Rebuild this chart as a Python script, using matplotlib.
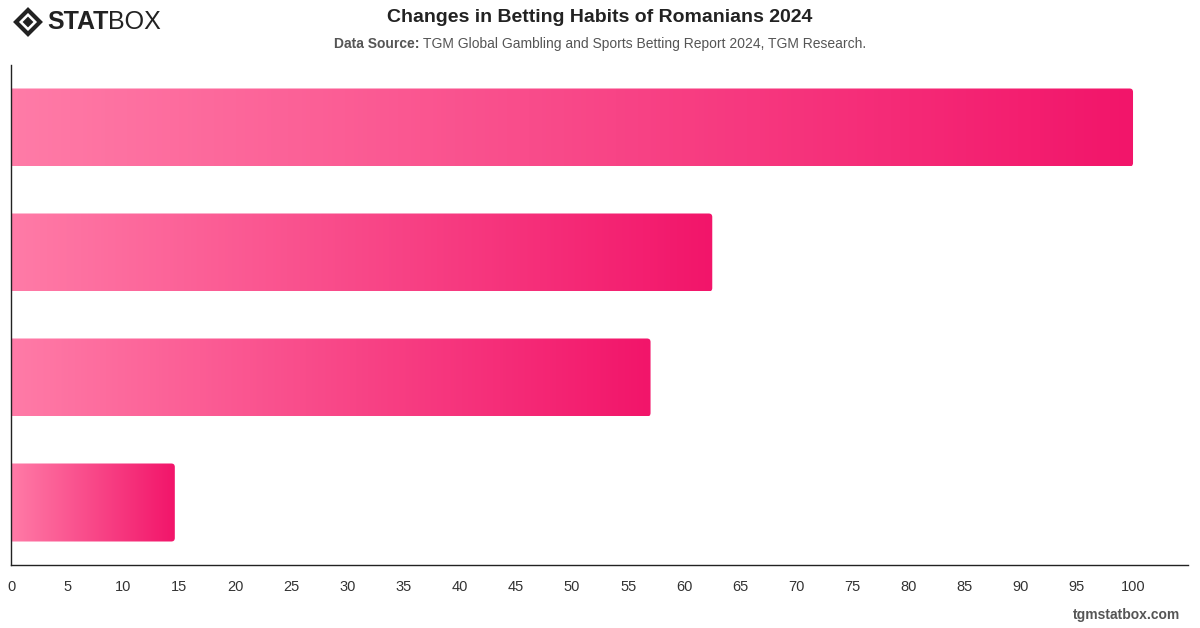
import numpy as np
import matplotlib
matplotlib.use("Agg")
import matplotlib.pyplot as plt
from matplotlib.patches import FancyBboxPatch, Polygon
from matplotlib.colors import LinearSegmentedColormap

plt.rcParams['font.family'] = ['Liberation Sans', 'DejaVu Sans']

# data (category names are not shown in the chart)
categories = ["Group 1", "Group 2", "Group 3", "Group 4"]
values = [100, 62.5, 57.0, 14.6]
x_ticks = list(range(0, 101, 5))

title = "Changes in Betting Habits of Romanians 2024"
source = "TGM Global Gambling and Sports Betting Report 2024, TGM Research."

fig = plt.figure(figsize=(12, 6.28), dpi=100)
ax = fig.add_axes([11 / 1200, 1 - 565 / 628, (1188 - 11) / 1200, 500 / 628])

grad = LinearSegmentedColormap.from_list("pinks", ["#ff7ba7", "#f2156a"])
bar_h = 0.624
x_max = 104.9

# pixels per data unit, for the small rounded corners
px_x = 1177 / x_max
px_y = 500 / len(categories)
rad = 3.5 / px_x
aspect = (3.5 / px_y) / rad

g = np.linspace(0, 1, 256).reshape(1, -1)
for i, v in enumerate(values):
    y0 = i - bar_h / 2
    patch = FancyBboxPatch((-2, y0), v + 2, bar_h,
                           boxstyle=f"round,pad=0,rounding_size={rad}",
                           mutation_aspect=aspect,
                           facecolor="none", edgecolor="none")
    ax.add_patch(patch)
    im = ax.imshow(g, cmap=grad, aspect="auto", extent=[0, v, y0 + bar_h, y0],
                   interpolation="bicubic", zorder=2)
    im.set_clip_path(patch)

ax.set_aspect("auto")
ax.set_xlim(0, x_max)
ax.set_ylim(len(categories) - 0.5, -0.5)

ax.set_xticks(x_ticks)
ax.set_xticklabels([str(t) for t in x_ticks], fontsize=10.5, color="#333333")
ax.tick_params(axis="x", length=0, pad=11)
ax.set_yticks([])
for s in ["top", "right"]:
    ax.spines[s].set_visible(False)
for s in ["left", "bottom"]:
    ax.spines[s].set_color("#222222")
    ax.spines[s].set_linewidth(1.0)

# titles
fig.text(0.5, 1 - 17 / 628, title, ha="center", va="center",
         fontsize=14, fontweight="bold", color="#222222")
t1 = fig.text(0.5, 1 - 44 / 628, "Data Source: ", ha="right", va="center",
              fontsize=10, fontweight="bold", color="#555555")
t2 = fig.text(0.5, 1 - 44 / 628, source, ha="left", va="center",
              fontsize=10, color="#555555")
fig.canvas.draw()
w1 = t1.get_window_extent().width
w2 = t2.get_window_extent().width
shift = (w1 - w2) / 2 / 1200
t1.set_x(0.5 + shift)
t2.set_x(0.5 + shift)

# logo
cx, cy = 28 / 1200, 1 - 22 / 628
dx, dy = 12 / 1200, 12 / 628
fig.patches.append(Polygon([[cx - dx, cy], [cx, cy + dy], [cx + dx, cy], [cx, cy - dy]],
                           closed=True, transform=fig.transFigure,
                           facecolor="none", edgecolor="#222222", linewidth=3))
fig.patches.append(Polygon([[cx - dx * 0.45, cy], [cx, cy + dy * 0.45],
                            [cx + dx * 0.45, cy], [cx, cy - dy * 0.45]],
                           closed=True, transform=fig.transFigure,
                           facecolor="#222222", edgecolor="none"))
lt = fig.text(47 / 1200, 1 - 22 / 628, "STAT", ha="left", va="center",
              fontsize=18, fontweight="bold", color="#222222")
fig.canvas.draw()
ex = lt.get_window_extent()
fig.text(ex.x1 / 1200, 1 - 22 / 628, "BOX", ha="left", va="center",
         fontsize=18, fontweight="normal", color="#222222")

fig.text(1180 / 1200, 1 - 615 / 628, "tgmstatbox.com", ha="right", va="center",
         fontsize=10, fontweight="bold", color="#555555")

fig.savefig("out.png", dpi=100, facecolor="white")
